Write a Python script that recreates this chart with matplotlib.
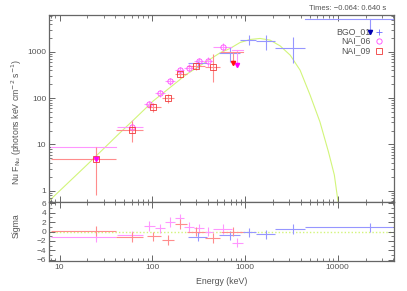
import numpy as np
import matplotlib.pyplot as plt
from matplotlib.ticker import MultipleLocator, LogLocator, NullFormatter

plt.rcParams['font.family'] = ['Liberation Sans', 'DejaVu Sans']

# ---- data ----
# BGO_01 (blue): energy centre, bin edges, flux, flux error range, residual
bgo_e = [310, 690, 1107, 1675, 3280]
bgo_elo = [244, 530, 890, 1300, 2100]
bgo_ehi = [390, 890, 1300, 2100, 4450]
bgo_f = [565, 957, 1800, 1740, 1190]
bgo_flo = [450, 610, 1400, 1100, 565]
bgo_fhi = [680, 1290, 2300, 2300, 2100]
bgo_sig = [-1.1, -0.8, -0.2, -0.6, 0.5]
# upper limits: centre, bin lo, bin hi, limit, arrow tip, residual
bgo_ul = [(22400, 4450, 40000, 5050, 2700, 0.9)]

# NAI_06 (magenta circles)
n6_e = [61, 93, 121, 156, 199, 252, 322, 403, 585]
n6_elo = [42, 81, 107, 137, 178, 222, 285, 360, 455]
n6_ehi = [80, 107, 137, 178, 222, 285, 360, 450, 720]
n6_f = [24, 74, 127, 234, 404, 454, 632, 632, 1290]
n6_flo = [15, 60, 105, 195, 340, 370, 520, 480, 1050]
n6_fhi = [33, 88, 150, 275, 470, 540, 750, 780, 1550]
n6_sig = [-0.8, 1.2, 0.65, 2.0, 2.8, 1.0, 0.7, 0.0, 0.5]
n6_ul = [(25, 8.1, 41, 8.9, 4.9, -1.2), (830, 720, 950, 1100, 520, -2.4)]

# NAI_09 (red squares)
n9_e = [24.6, 61, 101, 147, 199, 296, 450]
n9_elo = [8.1, 41, 87, 128, 176, 235, 370]
n9_ehi = [41, 80, 123, 172, 235, 370, 540]
n9_f = [4.8, 21, 65, 100, 326, 493, 476]
n9_flo = [0.8, 11.4, 50, 80, 270, 400, 226]
n9_fhi = [8.9, 32.6, 80, 125, 385, 590, 920]
n9_sig = [0.1, -1.2, -1.0, -1.8, 1.6, 0.0, -1.4]
n9_ul = [(750, 550, 950, 1000, 580, 0.0)]

# model curve (nuFnu)
model_e = [7.7, 20, 45, 62.5, 103, 235, 540, 690, 885, 1135, 1455, 1870,
           2400, 3080, 3930, 5040, 6430, 7940, 9200, 10200]
model_f = [0.60, 3.7, 18, 33.5, 88, 330, 960, 1190, 1600, 1860, 1960, 1800,
           1350, 850, 405, 117, 31, 7.0, 2.2, 0.5]

energy_ticks = [10, 100, 1000, 10000]
time_text = 'Times: \u22120.064: 0.640 s'

series = [
    ('BGO_01', '#9696ff', '#0000b0', '+', bgo_e, bgo_elo, bgo_ehi, bgo_f, bgo_flo, bgo_fhi, bgo_sig, bgo_ul),
    ('NAI_06', '#ff96ff', '#ff00ff', 'o', n6_e, n6_elo, n6_ehi, n6_f, n6_flo, n6_fhi, n6_sig, n6_ul),
    ('NAI_09', '#ff8c8c', '#ff1010', 's', n9_e, n9_elo, n9_ehi, n9_f, n9_flo, n9_fhi, n9_sig, n9_ul),
]

fig = plt.figure(figsize=(4.07, 2.91), dpi=100)
ax = fig.add_axes([49 / 407, 1 - 202 / 291, 345 / 407, 187 / 291])
axr = fig.add_axes([49 / 407, 1 - 261 / 291, 345 / 407, 59 / 291], sharex=ax)

ax.plot(model_e, model_f, color='#d2f57a', lw=0.8, zorder=1)
axr.axhline(0, color='#d2f57a', lw=1.0, ls=(0, (1, 1.5)), zorder=1)

for name, lc, dc, mk, e, elo, ehi, f, flo, fhi, sig, ul in series:
    e = np.array(e); f = np.array(f)
    xerr = [e - np.array(elo), np.array(ehi) - e]
    yerr = [f - np.array(flo), np.array(fhi) - f]
    ax.errorbar(e, f, xerr=xerr, yerr=yerr, fmt='none', ecolor=lc, elinewidth=0.8, capsize=0, zorder=2)
    if mk != '+':
        mc = '#ff44ff' if mk == 'o' else '#f03838'
        ax.plot(e, f, ls='none', marker=mk, ms=3.8, mfc='none', mec=mc, mew=0.6, zorder=3)
    axr.errorbar(e, sig, xerr=xerr, yerr=1, fmt='none', ecolor=lc, elinewidth=0.8, capsize=0, zorder=2)
    for (ue, ulo, uhi, lim, tip, us) in ul:
        ax.plot([ulo, uhi], [lim, lim], color=lc, lw=0.8, zorder=2)
        ax.plot([ue, ue], [lim, tip], color=lc, lw=0.8, zorder=2)
        ax.plot([ue], [tip], marker='v', ms=3, color=dc, ls='none', zorder=5)
        axr.errorbar([ue], [us], xerr=[[ue - ulo], [uhi - ue]], yerr=1, fmt='none',
                     ecolor=lc, elinewidth=0.8, capsize=0, zorder=2)

ax.set_xscale('log')
ax.set_yscale('log')
ax.set_xlim(7.7, 40500)
ax.set_ylim(0.57, 6300)
axr.set_ylim(-6.3, 6.3)

frame = '#666666'
for a in (ax, axr):
    for s in a.spines.values():
        s.set_color(frame)
        s.set_linewidth(0.9)
    a.tick_params(which='both', direction='in', top=True, right=True, color=frame,
                  labelcolor='#555555', labelsize=6, pad=2)
    a.tick_params(which='major', length=4, width=0.7)
    a.tick_params(which='minor', length=2.2, width=0.6)

ax.yaxis.set_minor_locator(LogLocator(base=10, subs=np.arange(2, 10), numticks=10))
ax.set_yticks([1, 10, 100, 1000])
ax.set_yticklabels(['1', '10', '100', '1000'])
ax.yaxis.set_minor_formatter(NullFormatter())
ax.xaxis.set_minor_locator(LogLocator(base=10, subs=np.arange(2, 10), numticks=10))
plt.setp(ax.get_xticklabels(), visible=False)

axr.set_xticks(energy_ticks)
axr.set_xticklabels([str(t) for t in energy_ticks])
axr.xaxis.set_minor_formatter(NullFormatter())
axr.yaxis.set_minor_locator(MultipleLocator(1))
axr.set_yticks([-6, -4, -2, 0, 2, 4, 6])
axr.set_xlim(7.7, 40500)

txt = '#555555'
fig.text(17 / 407, 1 - 122 / 291, r'Nu F$_{\rm Nu}$ (photons keV cm$^{-2}$ s$^{-1}$)',
         rotation=90, ha='center', va='center', fontsize=6.3, color=txt)
fig.text(16 / 407, 1 - 226 / 291, 'Sigma', rotation=90, ha='center', va='center', fontsize=6.3, color=txt)
fig.text(221.5 / 407, 1 - 281 / 291, 'Energy (keV)', ha='center', va='center', fontsize=6.3, color=txt)
fig.text(386 / 407, 1 - 9 / 291, time_text, ha='right', va='center', fontsize=5.5, color=txt)

# legend, drawn by hand in axes fraction
for i, (name, lc, dc, mk, *_rest) in enumerate(series):
    yy = 1 - (31.5 + 9.7 * i - 15) / 187
    ax.text((371 - 49) / 345, yy, name, transform=ax.transAxes, ha='right', va='center',
            fontsize=6.3, color=txt, zorder=4)
    mc = {'+': '#6a6aff', 'o': '#ff44ff', 's': '#f03838'}[mk]
    ax.plot([(379.5 - 49) / 345], [yy], transform=ax.transAxes, marker=mk, ms=3.8 if mk != '+' else 5,
            mfc='none', mec=mc, mew=0.6, ls='none', zorder=4)

fig.savefig('out.png', dpi=100)
